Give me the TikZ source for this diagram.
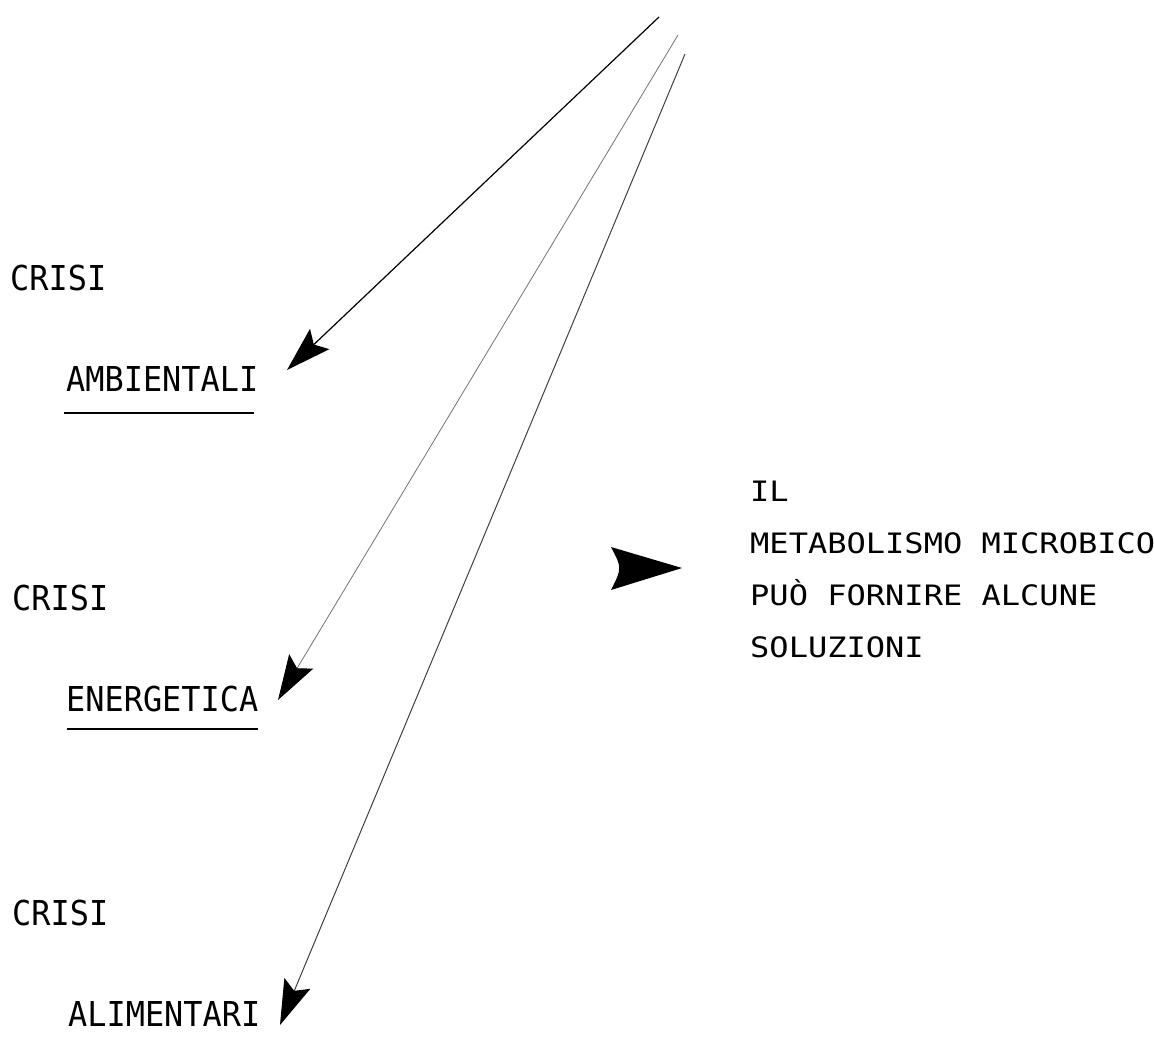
\documentclass[tikz,border=0pt]{standalone}
\usepackage{fontspec}
\usetikzlibrary{arrows.meta}
\newfontfamily\crisifont[FakeStretch=0.93]{DejaVu Sans Mono}
\newfontfamily\notefont[FakeStretch=1.14]{DejaVu Sans Mono}

\begin{document}
\begin{tikzpicture}[x=1pt, y=-1pt,
  lbl/.style={anchor=base west, inner sep=0pt, font=\crisifont\fontsize{34.3}{40}\selectfont},
  crisiarrow/.style={-{Stealth[length=45pt, width=28pt, inset=8pt, color=black]}},
  uline/.style={line width=1.3pt}]
\useasboundingbox (0,0) rectangle (1154,1053);
%Text
\node (crisiA) [lbl] at (10,290) {CRISI};
\node (ambient) [lbl] at (66,391) {AMBIENTALI};
\node (crisiB) [lbl] at (12,610) {CRISI};
\node (energy) [lbl] at (66,711) {ENERGETICA};
\node (crisiC) [lbl] at (12,925) {CRISI};
\node (aliment) [lbl] at (68,1026) {ALIMENTARI};
\node (note) [anchor=base west, inner sep=0pt, align=left,
  font=\notefont\fontsize{28.1}{52}\selectfont] at (750,657)
  {IL\\METABOLISMO MICROBICO\\PUÒ FORNIRE ALCUNE\\SOLUZIONI};
%underlines
\draw [uline] ([xshift=-2pt, yshift=-22pt]ambient.base west) -- ([xshift=-4pt, yshift=-22pt]ambient.base east);
\draw [uline] ([xshift=1pt, yshift=-18pt]energy.base west) -- ([xshift=0pt, yshift=-18pt]energy.base east);
%arrows
\coordinate (srcA) at (659,17);
\coordinate (tipA) at (287,370);
\coordinate (srcB) at (678,35);
\coordinate (tipB) at (278,700);
\coordinate (srcC) at (685,54);
\coordinate (tipC) at (280,1025);
\draw [crisiarrow, line width=1.2pt] (srcA) -- (tipA);
\draw [crisiarrow, line width=0.8pt, black!55] (srcB) -- (tipB);
\draw [crisiarrow, line width=1pt, black!75] (srcC) -- (tipC);
\fill (611,547) -- (682,568) -- (611,590) .. controls (622,568) .. (611,547) -- cycle;
\end{tikzpicture}
\end{document}
